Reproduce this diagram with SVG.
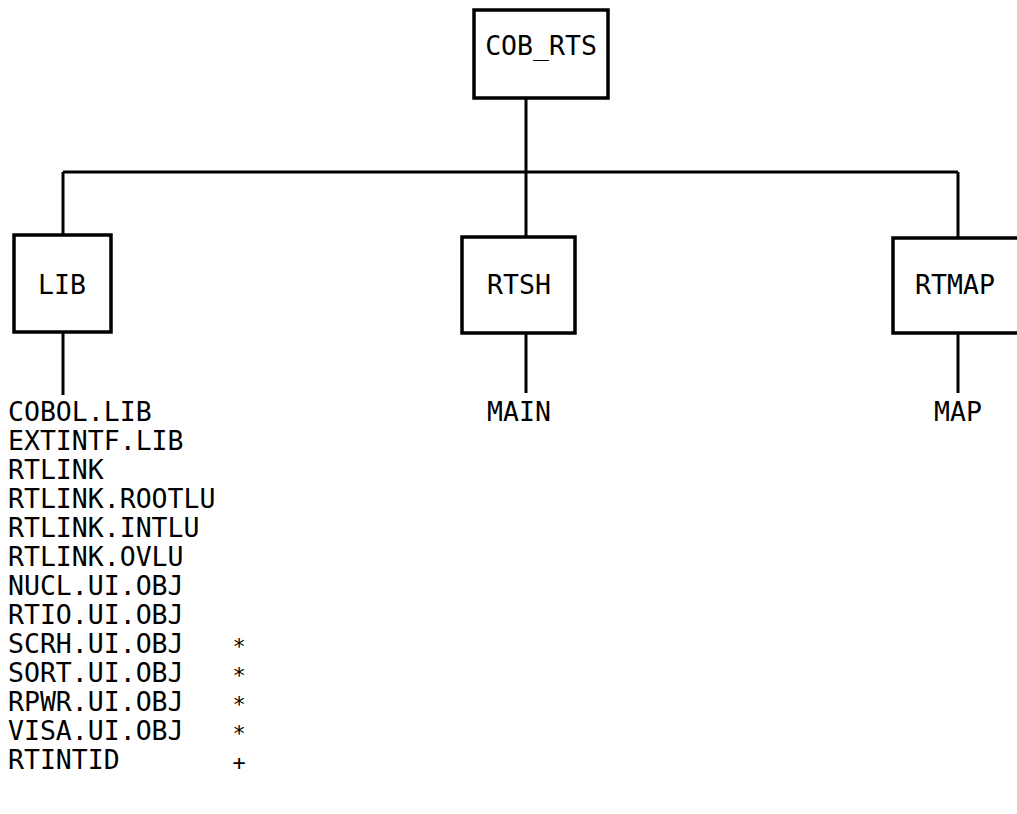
<svg xmlns="http://www.w3.org/2000/svg" width="1017" height="814" viewBox="0 0 1017 814">
<style>
.box{fill:#fff;stroke:#000;stroke-width:3.5}
.ln{stroke:#000;stroke-width:3;fill:none}
text{font-family:"DejaVu Sans Mono","Liberation Mono",monospace;font-size:26.5px;fill:#000}
.c{text-anchor:middle}
.m{font-size:22px}
</style>
<rect width="1017" height="814" fill="#fff"/>
<g id="connectors">
<line class="ln" x1="526" y1="98" x2="526" y2="172"/>
<line class="ln" x1="63" y1="172" x2="958" y2="172"/>
<line class="ln" x1="63" y1="172" x2="63" y2="235"/>
<line class="ln" x1="526" y1="172" x2="526" y2="237"/>
<line class="ln" x1="958" y1="172" x2="958" y2="238"/>
<line class="ln" x1="63" y1="332" x2="63" y2="395"/>
<line class="ln" x1="526" y1="333" x2="526" y2="393"/>
<line class="ln" x1="958" y1="333" x2="958" y2="393"/>
</g>
<g id="cob_rts">
<rect class="box" x="474" y="10" width="134" height="88"/>
<text class="c" x="541" y="55">COB_RTS</text>
</g>
<g id="lib">
<rect class="box" x="14" y="235" width="97" height="97"/>
<text class="c" x="62" y="294">LIB</text>
</g>
<g id="rtsh">
<rect class="box" x="462" y="237" width="113" height="96"/>
<text class="c" x="519" y="294">RTSH</text>
</g>
<g id="rtmap">
<rect class="box" x="893" y="238" width="140" height="95"/>
<text class="c" x="955" y="294">RTMAP</text>
</g>
<g id="main">
<text class="c" x="519" y="421">MAIN</text>
</g>
<g id="map">
<text class="c" x="958" y="421">MAP</text>
</g>
<g id="lib-files">
<text x="8" y="421">COBOL.LIB</text>
<text x="8" y="450">EXTINTF.LIB</text>
<text x="8" y="479">RTLINK</text>
<text x="8" y="508">RTLINK.ROOTLU</text>
<text x="8" y="537">RTLINK.INTLU</text>
<text x="8" y="566">RTLINK.OVLU</text>
<text x="8" y="595">NUCL.UI.OBJ</text>
<text x="8" y="624">RTIO.UI.OBJ</text>
<text x="8" y="653">SCRH.UI.OBJ</text>
<text x="8" y="682">SORT.UI.OBJ</text>
<text x="8" y="711">RPWR.UI.OBJ</text>
<text x="8" y="740">VISA.UI.OBJ</text>
<text x="8" y="769">RTINTID</text>
<text class="c m" x="239" y="654">*</text>
<text class="c m" x="239" y="683">*</text>
<text class="c m" x="239" y="712">*</text>
<text class="c m" x="239" y="741">*</text>
<text class="c m" x="239" y="770">+</text>
</g>
</svg>
